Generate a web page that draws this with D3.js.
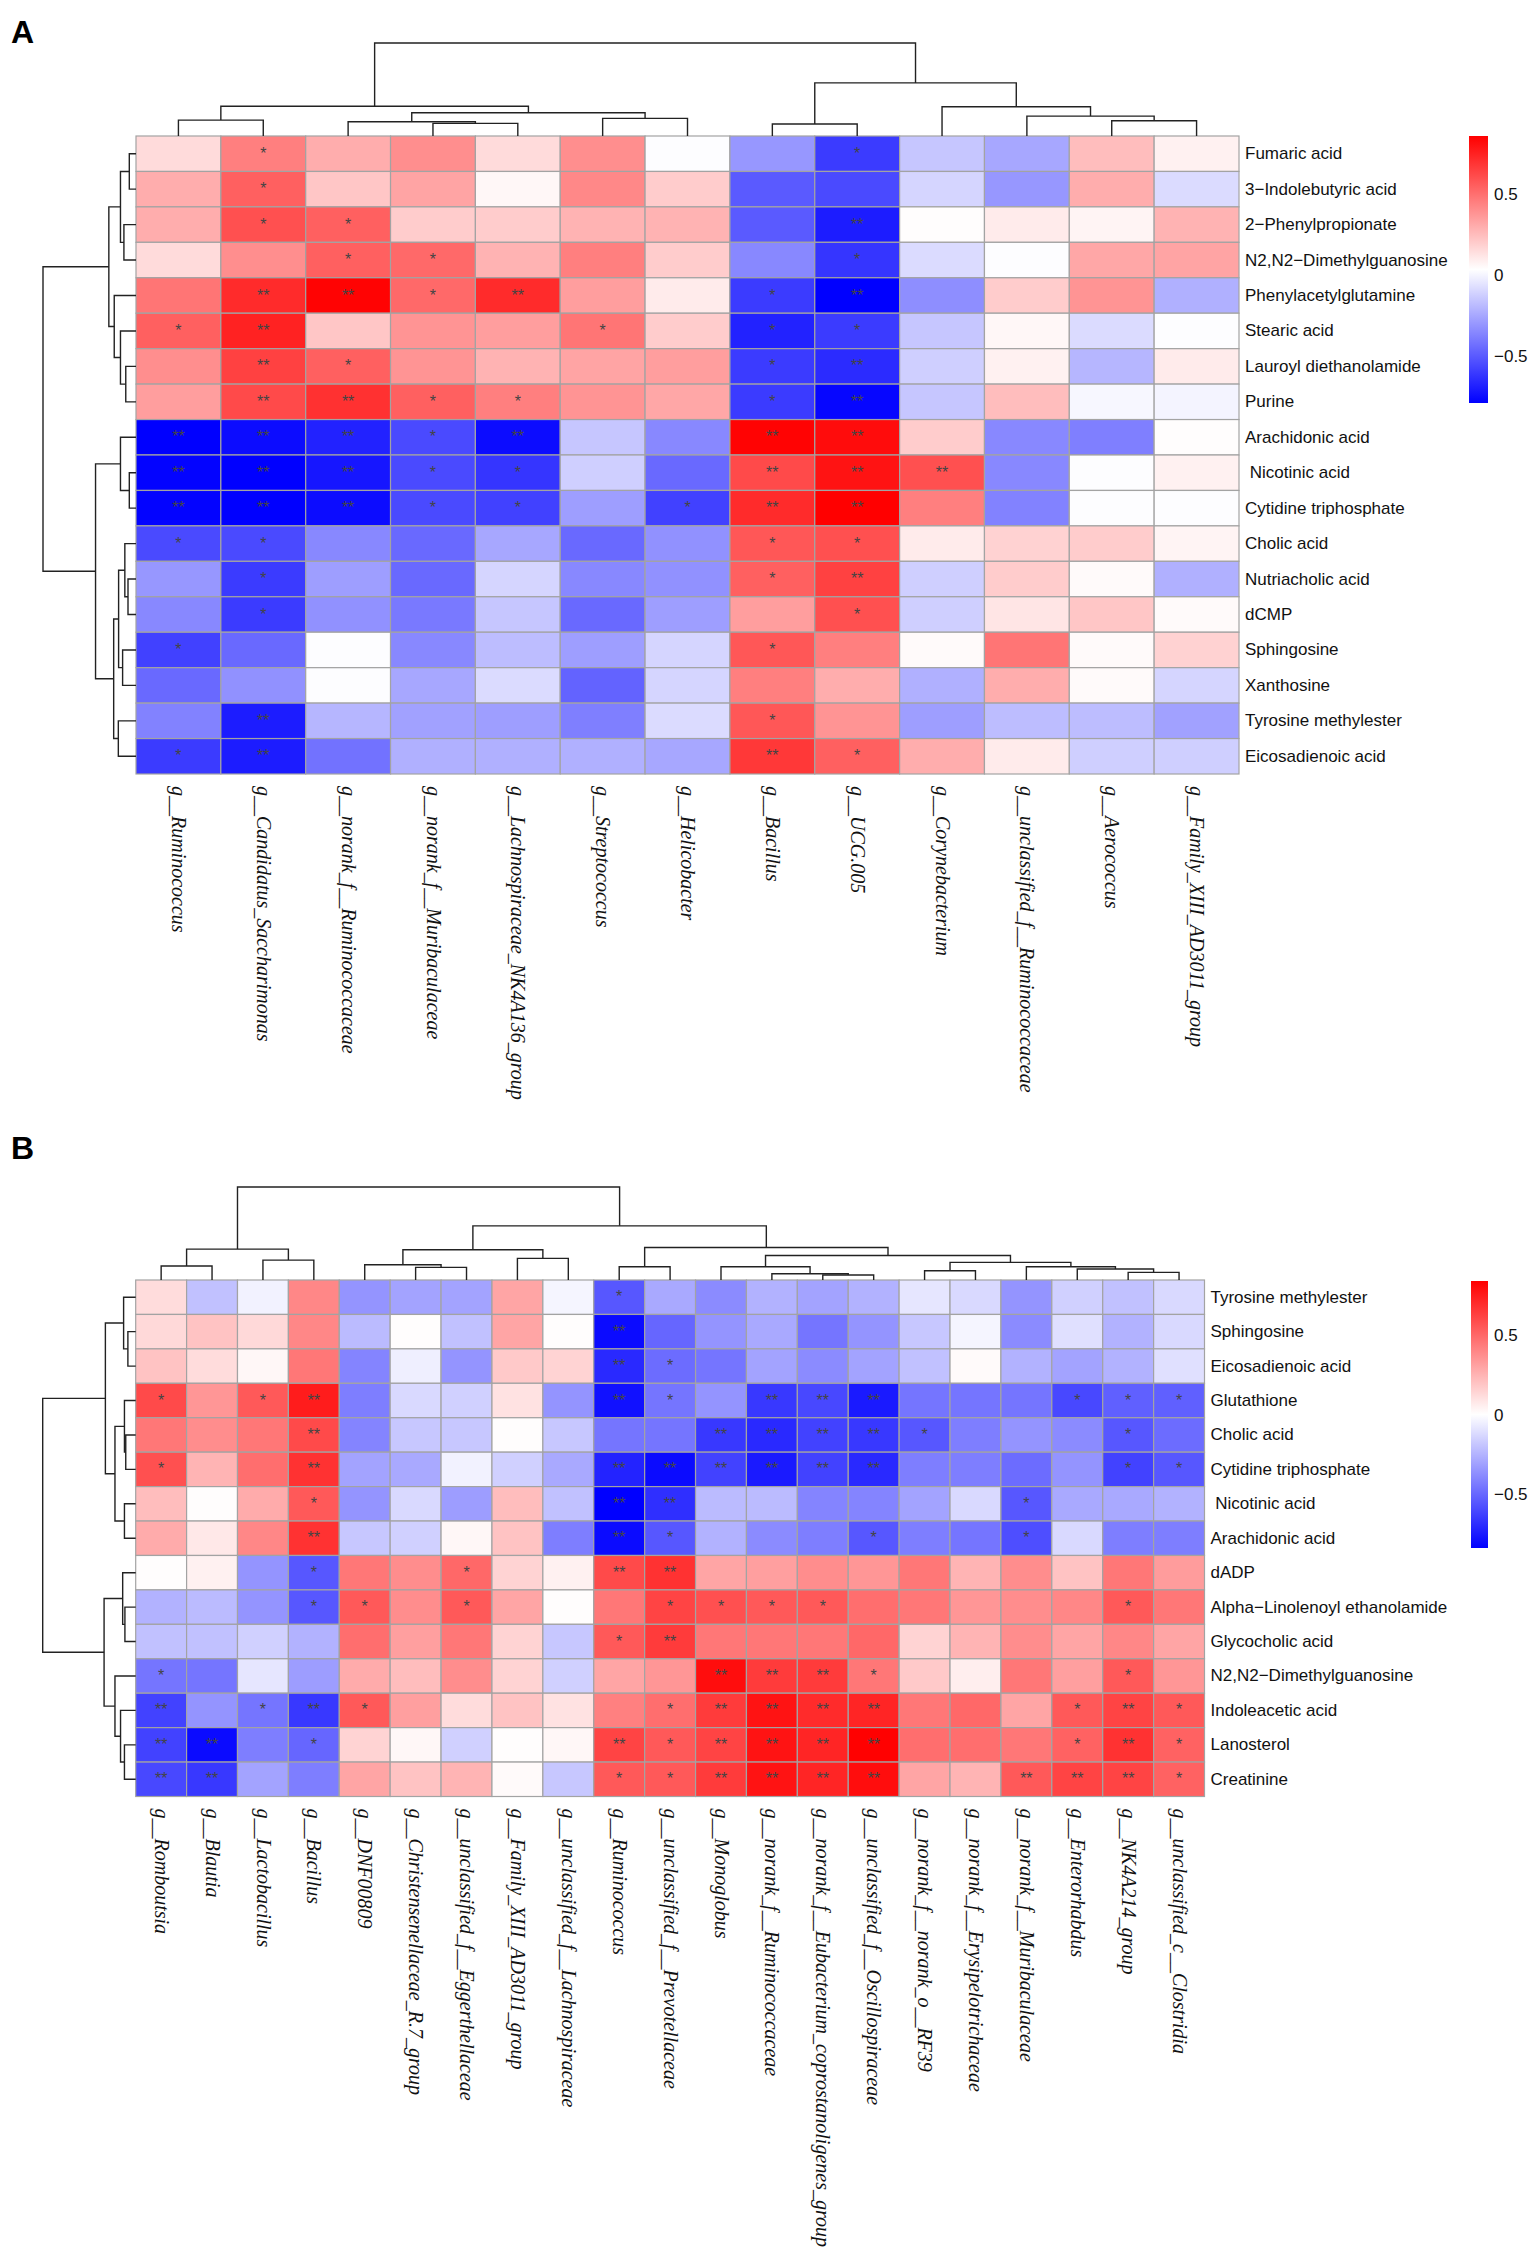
<!DOCTYPE html>
<html><head><meta charset="utf-8">
<script src="https://cdn.jsdelivr.net/npm/d3@7/dist/d3.min.js"></script>
<style>body{margin:0;background:#fff}svg{display:block}</style>
</head><body>
<svg id="chart" width="1535" height="2264"></svg>
<script>
// ---------------- Panel A data ----------------
const colsA = ["g__Ruminococcus","g__Candidatus_Saccharimonas","g__norank_f__Ruminococcaceae","g__norank_f__Muribaculaceae","g__Lachnospiraceae_NK4A136_group","g__Streptococcus","g__Helicobacter","g__Bacillus","g__UCG.005","g__Corynebacterium","g__unclassified_f__Ruminococcaceae","g__Aerococcus","g__Family_XIII_AD3011_group"];
const rowsA = ["Fumaric acid","3\u2212Indolebutyric acid","2\u2212Phenylpropionate","N2,N2\u2212Dimethylguanosine","Phenylacetylglutamine","Stearic acid","Lauroyl diethanolamide","Purine","Arachidonic acid"," Nicotinic acid","Cytidine triphosphate","Cholic acid","Nutriacholic acid","dCMP","Sphingosine","Xanthosine","Tyrosine methylester","Eicosadienoic acid"];
const valuesA = [
 [0.15,0.45,0.3,0.4,0.15,0.4,0.03,-0.3,-0.6,-0.15,-0.25,0.25,0.08],
 [0.3,0.55,0.22,0.33,0.06,0.42,0.2,-0.5,-0.55,-0.1,-0.3,0.3,-0.08],
 [0.3,0.6,0.55,0.2,0.2,0.28,0.28,-0.5,-0.7,0.04,0.1,0.07,0.28],
 [0.15,0.4,0.55,0.52,0.28,0.45,0.2,-0.35,-0.62,-0.08,0.03,0.32,0.33],
 [0.48,0.72,0.85,0.52,0.72,0.35,0.1,-0.6,-0.8,-0.33,0.2,0.38,-0.22],
 [0.55,0.75,0.22,0.38,0.35,0.48,0.2,-0.68,-0.6,-0.15,0.06,-0.08,0.03],
 [0.4,0.65,0.55,0.38,0.28,0.33,0.35,-0.6,-0.65,-0.12,0.08,-0.2,0.1],
 [0.35,0.62,0.7,0.55,0.45,0.38,0.32,-0.6,-0.77,-0.15,0.25,0.01,0.0],
 [-0.8,-0.75,-0.68,-0.55,-0.75,-0.15,-0.35,0.85,0.82,0.2,-0.35,-0.38,0.04],
 [-0.78,-0.8,-0.72,-0.55,-0.62,-0.12,-0.45,0.62,0.8,0.6,-0.35,0.03,0.08],
 [-0.78,-0.85,-0.75,-0.55,-0.58,-0.28,-0.58,0.72,0.86,0.45,-0.37,0.03,0.03],
 [-0.55,-0.55,-0.35,-0.45,-0.25,-0.45,-0.32,0.58,0.6,0.1,0.18,0.2,0.07],
 [-0.3,-0.6,-0.28,-0.45,-0.1,-0.35,-0.32,0.55,0.65,-0.12,0.2,0.05,-0.22],
 [-0.35,-0.6,-0.32,-0.4,-0.15,-0.45,-0.28,0.35,0.6,-0.12,0.12,0.22,0.05],
 [-0.58,-0.45,0.03,-0.35,-0.18,-0.28,-0.1,0.58,0.45,0.05,0.48,0.05,0.18],
 [-0.45,-0.32,0.03,-0.25,-0.08,-0.47,-0.1,0.45,0.3,-0.22,0.3,0.05,-0.1],
 [-0.37,-0.7,-0.2,-0.27,-0.28,-0.38,-0.08,0.58,0.38,-0.28,-0.18,-0.18,-0.27],
 [-0.6,-0.7,-0.42,-0.22,-0.22,-0.22,-0.25,0.68,0.55,0.3,0.1,-0.12,-0.12]
];
// significance: 0 none, 1 "*", 2 "**"
const signifA = ["0100000010000","0100000000000","0110000020000","0011000010000","0221200120000","1200010110000","0210000120000","0221100120000","2221200220000","2221100222000","2221101220000","1100000110000","0100000120000","0100000010000","1000000100000","0000000000000","0200000100000","1200000210000"];
// dendrograms: [mergeHeight, left, right], leaves are indices
const colTreeA = [1.0,
  [0.32,[0.171,0,1],[0.25,[0.153,2,[0.136,3,4]],[0.19,5,6]]],
  [0.571,[0.129,7,8],[0.314,9,[0.214,10,[0.164,11,12]]]]];
const rowTreeA = [1.0,
  [0.292,[0.167,[0.072,0,1],[0.13,2,3]],[0.234,4,[0.167,5,[0.11,6,7]]]],
  [0.435,[0.167,8,[0.072,9,10]],[0.24,[0.187,[0.12,11,[0.086,12,13]],[0.144,14,15]],[0.19,16,17]]]];
const legendRangeA = [-0.79, 0.86];

// ---------------- Panel B data ----------------
const colsB = ["g__Romboutsia","g__Blautia","g__Lactobacillus","g__Bacillus","g__DNF00809","g__Christensenellaceae_R.7_group","g__unclassified_f__Eggerthellaceae","g__Family_XIII_AD3011_group","g__unclassified_f__Lachnospiraceae","g__Ruminococcus","g__unclassified_f__Prevotellaceae","g__Monoglobus","g__norank_f__Ruminococcaceae","g__norank_f__Eubacterium_coprostanoligenes_group","g__unclassified_f__Oscillospiraceae","g__norank_f__norank_o__RF39","g__norank_f__Erysipelotrichaceae","g__norank_f__Muribaculaceae","g__Enterorhabdus","g__NK4A214_group","g__unclassified_c__Clostridia"];
const rowsB = ["Tyrosine methylester","Sphingosine","Eicosadienoic acid","Glutathione","Cholic acid","Cytidine triphosphate"," Nicotinic acid","Arachidonic acid","dADP","Alpha\u2212Linolenoyl ethanolamide","Glycocholic acid","N2,N2\u2212Dimethylguanosine","Indoleacetic acid","Lanosterol","Creatinine"];
const valuesB = [
 [0.12,-0.2,-0.04,0.4,-0.35,-0.3,-0.3,0.3,-0.03,-0.55,-0.28,-0.38,-0.25,-0.3,-0.25,-0.08,-0.12,-0.35,-0.15,-0.2,-0.12],
 [0.13,0.2,0.13,0.4,-0.22,0.01,-0.2,0.3,0.01,-0.8,-0.5,-0.35,-0.28,-0.45,-0.35,-0.18,-0.03,-0.38,-0.1,-0.25,-0.12],
 [0.2,0.12,0.03,0.45,-0.4,-0.05,-0.35,0.18,0.15,-0.7,-0.48,-0.45,-0.3,-0.38,-0.3,-0.2,0.02,-0.25,-0.3,-0.25,-0.1],
 [0.6,0.35,0.55,0.75,-0.42,-0.12,-0.15,0.1,-0.35,-0.78,-0.45,-0.35,-0.65,-0.6,-0.75,-0.45,-0.45,-0.45,-0.6,-0.52,-0.52],
 [0.45,0.38,0.45,0.6,-0.4,-0.18,-0.18,0.01,-0.18,-0.45,-0.45,-0.65,-0.7,-0.62,-0.65,-0.55,-0.42,-0.35,-0.38,-0.55,-0.48],
 [0.58,0.25,0.48,0.68,-0.3,-0.28,-0.04,-0.15,-0.28,-0.72,-0.8,-0.62,-0.75,-0.62,-0.7,-0.42,-0.42,-0.48,-0.35,-0.62,-0.55],
 [0.22,0.01,0.28,0.55,-0.35,-0.12,-0.32,0.22,-0.2,-0.85,-0.68,-0.22,-0.22,-0.4,-0.4,-0.3,-0.12,-0.55,-0.28,-0.28,-0.25],
 [0.28,0.08,0.4,0.68,-0.18,-0.15,0.03,0.2,-0.42,-0.8,-0.55,-0.25,-0.38,-0.42,-0.55,-0.42,-0.45,-0.58,-0.12,-0.42,-0.42],
 [0.01,0.05,-0.35,-0.55,0.45,0.38,0.5,0.15,0.05,0.6,0.68,0.3,0.32,0.38,0.35,0.45,0.25,0.38,0.2,0.45,0.33],
 [-0.25,-0.22,-0.35,-0.55,0.55,0.38,0.55,0.3,0.01,0.45,0.62,0.58,0.55,0.55,0.48,0.45,0.35,0.38,0.4,0.55,0.45],
 [-0.2,-0.2,-0.15,-0.25,0.48,0.32,0.45,0.15,-0.18,0.55,0.65,0.45,0.45,0.45,0.5,0.15,0.25,0.38,0.3,0.4,0.3],
 [-0.45,-0.45,-0.08,-0.32,0.28,0.22,0.38,0.15,-0.15,0.3,0.35,0.8,0.65,0.65,0.45,0.18,0.06,0.45,0.32,0.55,0.35],
 [-0.62,-0.35,-0.45,-0.65,0.55,0.32,0.12,0.2,0.1,0.42,0.48,0.65,0.78,0.7,0.72,0.45,0.5,0.3,0.55,0.62,0.55],
 [-0.62,-0.8,-0.42,-0.5,0.15,0.03,-0.15,0.01,0.03,0.62,0.55,0.62,0.78,0.72,0.84,0.48,0.48,0.45,0.52,0.68,0.52],
 [-0.6,-0.65,-0.3,-0.42,0.3,0.2,0.25,0.02,-0.18,0.55,0.55,0.65,0.78,0.72,0.8,0.3,0.25,0.55,0.62,0.62,0.52]
];
const signifB = ["000000000100000000000","000000000200000000000","000000000210000000000","101200000210222000111","000200000002222100010","100200000222222000011","000100000220000001000","000200000210001001000","000100100220000000000","000110100011110000010","000000000120000000000","100000000002221000010","201210000012222000121","220100000212222000121","220000000112222002221"];
const colTreeB = [1.0,
  [0.332,[0.15,0,1],[0.214,2,3]],
  [0.582,[0.325,[0.164,4,[0.136,5,6]],[0.232,7,8]],
   [0.35,[0.143,9,10],[0.264,[0.143,11,[0.068,12,[0.054,13,14]]],[0.19,[0.1,15,16],[0.143,17,[0.118,18,[0.082,19,20]]]]]]]];
const rowTreeB = [1.0,
  [0.326,[0.13,0,[0.084,1,2]],[0.223,[0.121,3,[0.107,4,5]],[0.121,6,7]]],
  [0.34,[0.14,8,[0.116,9,10]],[0.223,11,[0.163,12,[0.121,13,14]]]]];
const legendRangeB = [-0.836, 0.843];
const legendTicks = [0.5, 0, -0.5];
const starText = ["", "*", "**"];

const svg = d3.select("#chart");
const fmt = v => (v < 0 ? "\u2212" : "") + Math.abs(v);

function drawPanel(p) {
  const g = svg.append("g");
  const x = d3.scaleBand().domain(d3.range(p.cols.length)).range([p.x0, p.x1]);
  const y = d3.scaleBand().domain(d3.range(p.rows.length)).range([p.y0, p.y1]);
  const [lo, hi] = p.range;
  const color = d3.scaleLinear().domain([lo, (lo + hi) / 2, hi])
    .range(["#0000ff", "#ffffff", "#ff0000"]).clamp(true);

  // cells
  const cells = [];
  p.vals.forEach((row, r) => row.forEach((v, c) => cells.push({r, c, v, s: +p.sig[r][c]})));
  g.selectAll("rect.cell").data(cells).join("rect")
    .attr("x", d => x(d.c)).attr("y", d => y(d.r))
    .attr("width", x.bandwidth()).attr("height", y.bandwidth())
    .attr("fill", d => color(d.v)).attr("stroke", "#a3a3a3").attr("stroke-width", 1.2);
  g.selectAll("text.star").data(cells.filter(d => d.s > 0)).join("text")
    .attr("x", d => x(d.c) + x.bandwidth() / 2).attr("y", d => y(d.r) + y.bandwidth() / 2 + 5)
    .attr("text-anchor", "middle").attr("font-family", "Liberation Sans, Arial, sans-serif")
    .attr("font-size", 16).attr("fill", "#444").text(d => starText[d.s]);

  // row labels
  g.selectAll("text.rl").data(p.rows).join("text")
    .attr("x", p.x1 + 6).attr("y", (d, i) => y(i) + y.bandwidth() / 2)
    .attr("dominant-baseline", "central").attr("xml:space", "preserve").style("white-space", "pre")
    .attr("font-family", "Liberation Sans, Arial, sans-serif").attr("font-size", 17)
    .attr("fill", "#111").text(d => d);

  // column labels
  g.selectAll("text.cl").data(p.cols).join("text")
    .attr("transform", (d, i) => `translate(${x(i) + x.bandwidth() / 2},${p.y1 + 12}) rotate(90)`)
    .attr("dy", "0.32em").attr("font-family", "Liberation Serif, Times New Roman, serif")
    .attr("font-style", "italic").attr("font-size", 20).attr("fill", "#111").text(d => d);

  // top dendrogram
  const hTop = d3.scaleLinear().domain([0, 1]).range([p.y0, p.y0 - p.treeH]);
  const hLeft = d3.scaleLinear().domain([0, 1]).range([p.x0, p.x0 - p.treeH]);
  const colPaths = [], rowPaths = [];
  function walk(node, band, out) {
    if (typeof node === "number") return {pos: band(node) + band.bandwidth() / 2, h: 0};
    const a = walk(node[1], band, out), b = walk(node[2], band, out);
    out.push({a, b, h: node[0]});
    return {pos: (a.pos + b.pos) / 2, h: node[0]};
  }
  walk(p.colTree, x, colPaths);
  walk(p.rowTree, y, rowPaths);
  g.selectAll("path.ct").data(colPaths).join("path")
    .attr("d", d => `M${d.a.pos},${hTop(d.a.h)}V${hTop(d.h)}H${d.b.pos}V${hTop(d.b.h)}`)
    .attr("fill", "none").attr("stroke", "#222").attr("stroke-width", 1.4);
  g.selectAll("path.rt").data(rowPaths).join("path")
    .attr("d", d => `M${hLeft(d.a.h)},${d.a.pos}H${hLeft(d.h)}V${d.b.pos}H${hLeft(d.b.h)}`)
    .attr("fill", "none").attr("stroke", "#222").attr("stroke-width", 1.4);

  // legend
  const ly = d3.scaleLinear().domain([lo, hi]).range([p.legY1, p.legY0]);
  const gid = "grad" + p.id;
  const grad = svg.append("defs").append("linearGradient").attr("id", gid)
    .attr("x1", 0).attr("y1", 1).attr("x2", 0).attr("y2", 0);
  d3.range(0, 1.0001, 0.05).forEach(t => grad.append("stop").attr("offset", t)
    .attr("stop-color", color(lo + t * (hi - lo))));
  g.append("rect").attr("x", p.legX).attr("y", p.legY0).attr("width", p.legW)
    .attr("height", p.legY1 - p.legY0).attr("fill", `url(#${gid})`);
  g.selectAll("text.lt").data(legendTicks).join("text")
    .attr("x", p.legX + p.legW + 6).attr("y", d => ly(d)).attr("dominant-baseline", "central")
    .attr("font-family", "Liberation Sans, Arial, sans-serif").attr("font-size", 17)
    .attr("fill", "#111").text(fmt);

  // panel letter
  g.append("text").attr("x", 11).attr("y", p.letterY).attr("font-family", "Liberation Sans, Arial, sans-serif")
    .attr("font-weight", "bold").attr("font-size", 32).attr("fill", "#000").text(p.letter);
}

drawPanel({id: "A", letter: "A", letterY: 43, cols: colsA, rows: rowsA, vals: valuesA, sig: signifA,
  colTree: colTreeA, rowTree: rowTreeA, range: legendRangeA,
  x0: 136, x1: 1239, y0: 136, y1: 774, treeH: 93,
  legX: 1469, legW: 19, legY0: 136, legY1: 403});
drawPanel({id: "B", letter: "B", letterY: 1159, cols: colsB, rows: rowsB, vals: valuesB, sig: signifB,
  colTree: colTreeB, rowTree: rowTreeB, range: legendRangeB,
  x0: 135.7, x1: 1204.5, y0: 1280, y1: 1796.5, treeH: 93,
  legX: 1471, legW: 17, legY0: 1281, legY1: 1548});
</script>
</body></html>
